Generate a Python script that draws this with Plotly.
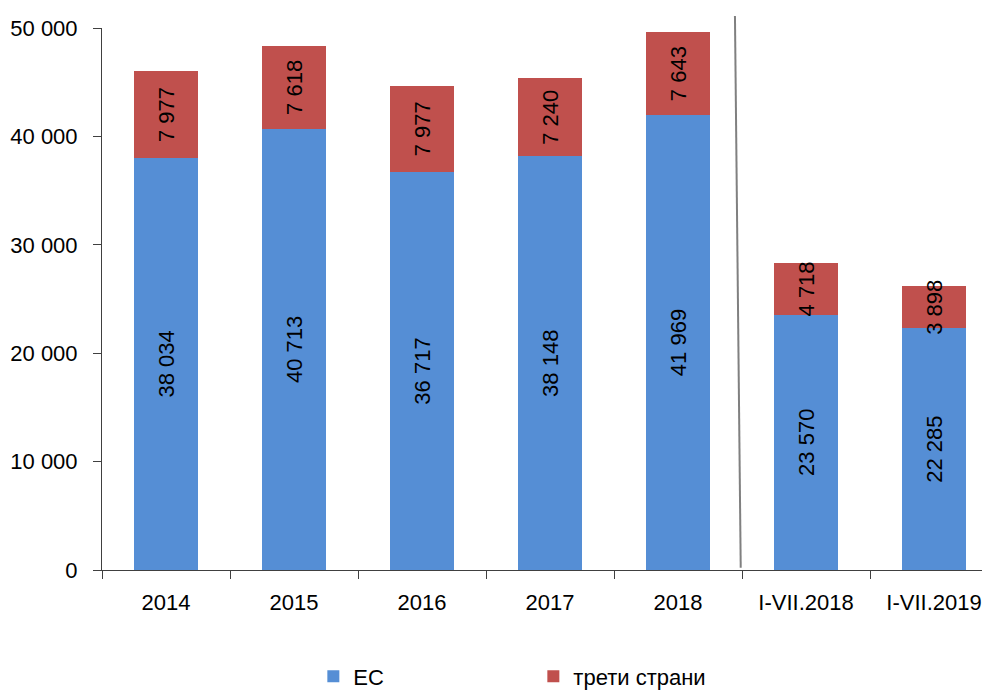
import plotly.graph_objects as go

categories = ["2014", "2015", "2016", "2017", "2018", "I-VII.2018", "I-VII.2019"]
eu_values = [38034, 40713, 36717, 38148, 41969, 23570, 22285]
third_values = [7977, 7618, 7977, 7240, 7643, 4718, 3898]
series_names = ["ЕС", "трети страни"]
y_ticks = [0, 10000, 20000, 30000, 40000, 50000]

FONT = "Liberation Sans Narrow, Arial Narrow, Liberation Sans, Arial, sans-serif"
BLUE = "#558ED5"
RED = "#C0504D"
FS = 22


def fmt(v):
    return f"{v:,}".replace(",", " ")


fig = go.Figure()
for name, vals, col in [(series_names[0], eu_values, BLUE), (series_names[1], third_values, RED)]:
    fig.add_trace(go.Bar(
        x=categories, y=vals, name=name,
        marker=dict(color=col, line=dict(width=0)),
        width=0.5,
        text=[fmt(v) for v in vals],
        textposition="inside",
        insidetextanchor="middle",
        textangle=-90,
        constraintext="none",
        textfont=dict(family=FONT, size=FS, color="black"),
    ))

# page body has an 8px margin, so the figure is offset by 8px on screen
fig.update_layout(
    barmode="stack",
    width=982, height=685,
    margin=dict(l=94, r=0, t=20, b=123, autoexpand=False),
    plot_bgcolor="white", paper_bgcolor="white",
    font=dict(family=FONT, size=FS, color="black"),
    showlegend=True,
    legend=dict(
        orientation="h", traceorder="normal",
        x=0.238, xanchor="left",
        yref="container", y=0.024, yanchor="middle",
        font=dict(family=FONT, size=FS, color="black"),
        entrywidth=175, entrywidthmode="pixels",
        bgcolor="rgba(0,0,0,0)",
    ),
    xaxis=dict(
        range=[-0.5, 6.4375],
        showline=True, linecolor="#404040", linewidth=1,
        ticks="outside", tickson="boundaries", ticklen=8, tickcolor="#404040",
        showgrid=False, zeroline=False,
        tickfont=dict(family=FONT, size=FS, color="black"),
        ticklabelstandoff=13,
    ),
    yaxis=dict(
        range=[0, 50000],
        tickvals=y_ticks,
        ticktext=[fmt(v) for v in y_ticks],
        showline=True, linecolor="#404040", linewidth=1,
        ticks="outside", ticklen=8, tickcolor="#404040",
        showgrid=False, zeroline=False,
        tickfont=dict(family=FONT, size=FS, color="black"),
        ticklabelstandoff=11,
    ),
)

# divider between annual and partial-year data
fig.add_shape(
    type="line", xref="x", yref="paper",
    x0=4.49, x1=4.445, y0=0.004, y1=1.022,
    line=dict(color="#808080", width=2),
    layer="above",
)

fig.write_html("out.html")
